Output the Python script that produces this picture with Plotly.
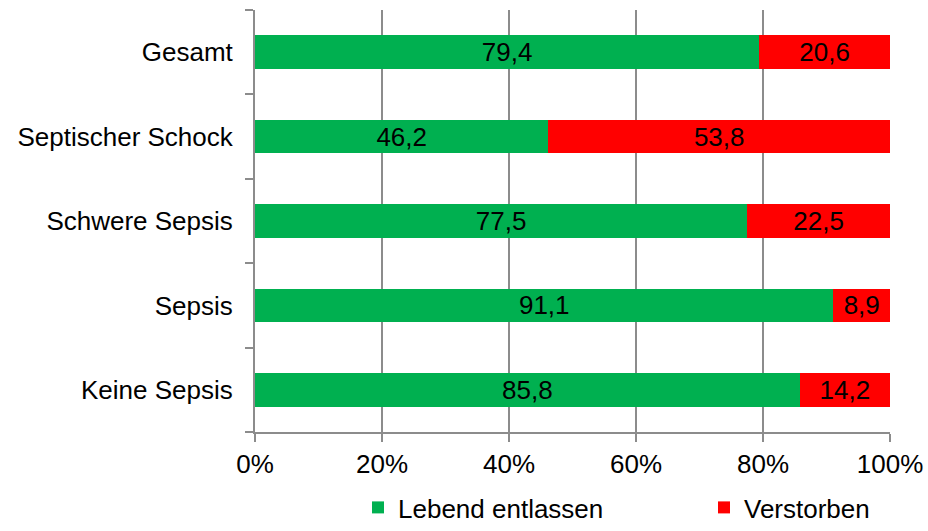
import plotly.graph_objects as go

# Outcome share (%) per sepsis group, listed bottom to top
categories = ["Keine Sepsis", "Sepsis", "Schwere Sepsis", "Septischer Schock", "Gesamt"]
lebend_entlassen = [85.8, 91.1, 77.5, 46.2, 79.4]
verstorben = [14.2, 8.9, 22.5, 53.8, 20.6]
x_ticks = [0, 20, 40, 60, 80, 100]
x_tick_labels = ["0%", "20%", "40%", "60%", "80%", "100%"]

GREEN = "#00B050"
RED = "#FF0000"
GRID = "#8C8C8C"
FONT = "Liberation Sans, Arial, sans-serif"
FS = 26


def fmt(v):
    return f"{v:.1f}".replace(".", ",")


fig = go.Figure()
fig.add_trace(go.Bar(
    y=categories, x=lebend_entlassen, orientation="h", name="Lebend entlassen",
    marker=dict(color=GREEN, line=dict(width=0)), width=0.4,
    text=[fmt(v) for v in lebend_entlassen], textposition="inside",
    insidetextanchor="middle", textangle=0,
    textfont=dict(family=FONT, size=FS, color="black"),
    hoverinfo="skip", legend="legend",
))
fig.add_trace(go.Bar(
    y=categories, x=verstorben, orientation="h", name="Verstorben",
    marker=dict(color=RED, line=dict(width=0)), width=0.4,
    text=[fmt(v) for v in verstorben], textposition="inside",
    insidetextanchor="middle", textangle=0,
    textfont=dict(family=FONT, size=FS, color="black"),
    hoverinfo="skip", legend="legend2",
))

legend_common = dict(
    orientation="h", xanchor="left", xref="container",
    yref="container", y=-0.008, yanchor="bottom",
    font=dict(family=FONT, size=FS, color="black"),
    itemwidth=30, bgcolor="rgba(0,0,0,0)",
)

fig.update_layout(
    barmode="stack",
    width=928, height=531,
    margin=dict(l=255, r=38, t=10, b=99, autoexpand=False),
    paper_bgcolor="white", plot_bgcolor="white",
    font=dict(family=FONT, size=FS, color="black"),
    uniformtext=dict(minsize=FS, mode="show"),
    showlegend=True,
    legend=dict(legend_common, x=358 / 928),
    legend2=dict(legend_common, x=704 / 928),
    xaxis=dict(
        range=[0, 100], tickvals=x_ticks, ticktext=x_tick_labels,
        showgrid=True, gridcolor=GRID, gridwidth=2,
        showline=True, linecolor=GRID, linewidth=2,
        ticks="outside", ticklen=8, tickwidth=2, tickcolor=GRID,
        zeroline=False, fixedrange=True,
    ),
    yaxis=dict(
        type="category", categoryorder="array", categoryarray=categories,
        showgrid=False,
        showline=True, linecolor=GRID, linewidth=2,
        ticks="outside", ticklen=8, tickwidth=2, tickcolor=GRID,
        tickson="boundaries", ticklabelstandoff=15,
        zeroline=False, fixedrange=True,
    ),
)

fig.write_html("out.html")
